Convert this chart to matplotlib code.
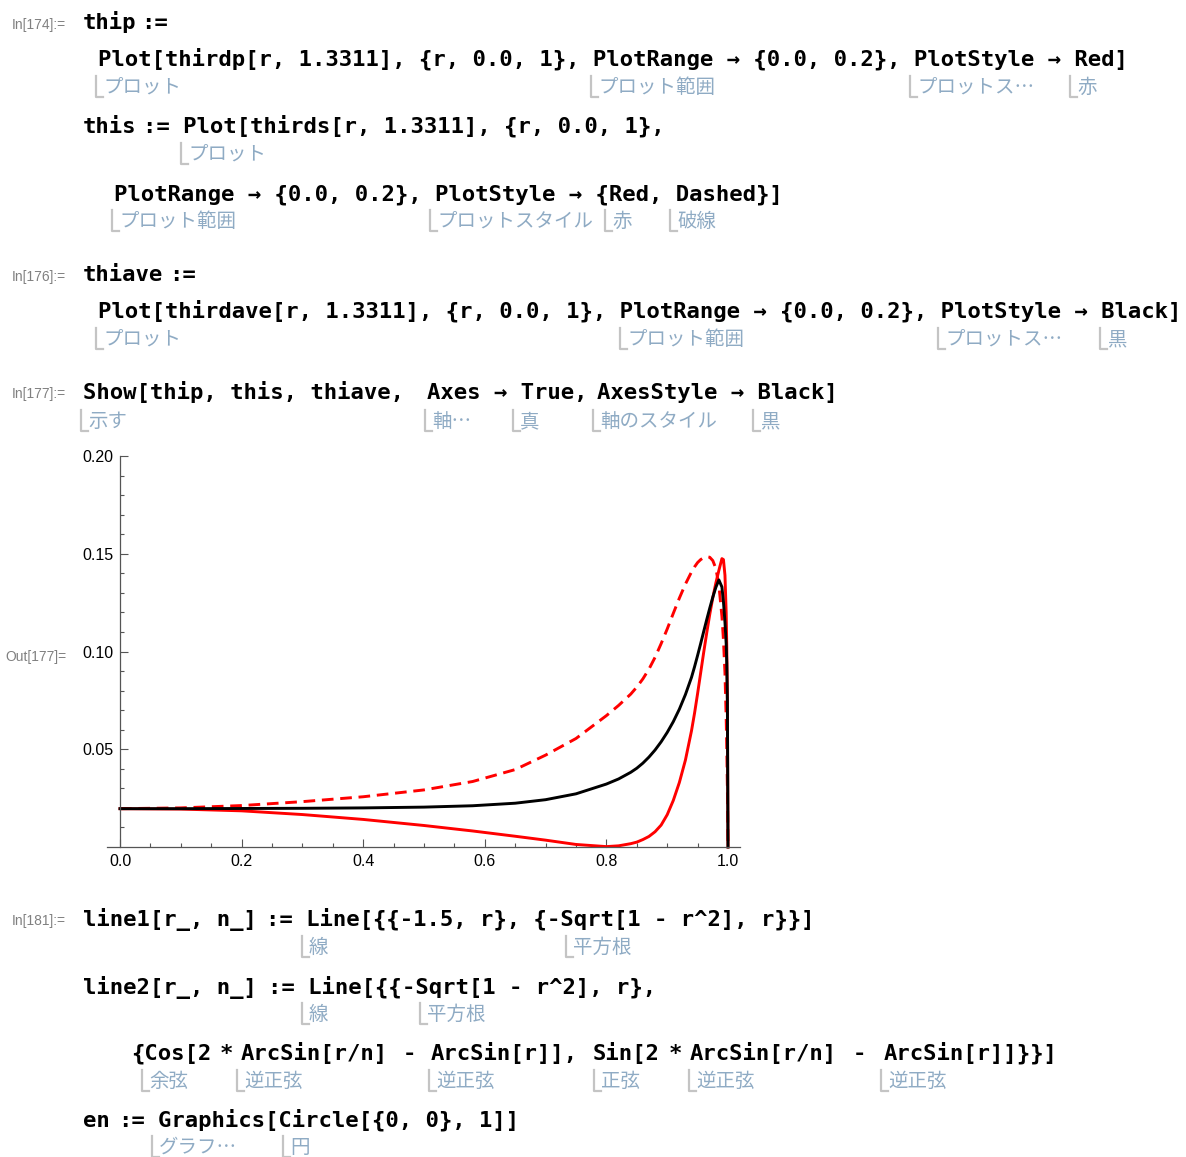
import matplotlib
matplotlib.use('Agg')
import matplotlib.pyplot as plt
from matplotlib.lines import Line2D

# r grid (same grid for all three curves)
r = [0.0, 0.1, 0.2, 0.3, 0.4, 0.5, 0.58, 0.65, 0.7, 0.75, 0.8, 0.82, 0.84, 0.85,
     0.86, 0.87, 0.88, 0.89, 0.9, 0.91, 0.92, 0.93, 0.94, 0.945, 0.95, 0.955, 0.96,
     0.965, 0.97, 0.975, 0.98, 0.985, 0.99, 0.9925, 0.995, 0.997, 0.998, 0.999, 1.0]

# thip (red solid)
thirdp = [0.0196, 0.0194, 0.0185, 0.0166, 0.0141, 0.0110, 0.0082, 0.0055, 0.0035, 0.0013,
          0.0002, 0.0006, 0.0017, 0.0025, 0.0038, 0.0054, 0.0078, 0.0112, 0.0165, 0.0238,
          0.0330, 0.0445, 0.0595, 0.0685, 0.0785, 0.0890, 0.0995, 0.1095, 0.1190, 0.1275,
          0.1350, 0.1415, 0.1475, 0.1470, 0.1390, 0.1200, 0.1020, 0.0720, 0.0]
# this (red dashed)
thirds = [0.0196, 0.0200, 0.0212, 0.0232, 0.0257, 0.0292, 0.0335, 0.0396, 0.0470, 0.0555,
          0.0672, 0.0724, 0.0782, 0.0818, 0.0860, 0.0910, 0.0970, 0.1040, 0.1115, 0.1195,
          0.1273, 0.1345, 0.1407, 0.1433, 0.1455, 0.1470, 0.1480, 0.1485, 0.1482, 0.1465,
          0.1425, 0.1340, 0.1180, 0.1060, 0.0890, 0.0660, 0.0500, 0.0300, 0.0]
# thiave (black)
thirdave = [0.0196, 0.0196, 0.0197, 0.0198, 0.0200, 0.0204, 0.0211, 0.0224, 0.0242, 0.0272,
            0.0322, 0.0348, 0.0382, 0.0403, 0.0429, 0.0460, 0.0496, 0.0538, 0.0586, 0.0641,
            0.0705, 0.0780, 0.0868, 0.0922, 0.0980, 0.1040, 0.1102, 0.1163, 0.1222, 0.1278,
            0.1328, 0.1366, 0.1330, 0.1255, 0.1150, 0.1040, 0.0940, 0.0750, 0.0]

x_ticks = [0.0, 0.2, 0.4, 0.6, 0.8, 1.0]
x_ticklabels = ['0.0', '0.2', '0.4', '0.6', '0.8', '1.0']
y_ticks = [0.05, 0.10, 0.15, 0.20]
y_ticklabels = ['0.05', '0.10', '0.15', '0.20']

W, H = 1186, 1157
CODE_FONT = dict(family='DejaVu Sans Mono', weight='bold', size=16, color='black')
NOTE_FONT = dict(family=['Noto Sans CJK JP', 'DejaVu Sans'], size=14, color='#8fabc4')
LABEL_FONT = dict(family='Liberation Sans', size=10, color='#808080')

fig = plt.figure(figsize=(W / 100, H / 100), dpi=100)


def put(x, y, s, **kw):
    # x, y in pixels from top-left
    fig.text(x / W, 1 - y / H, s, va='baseline', **kw)


def code(y, *parts):
    # parts: (x, text) pairs, so the tokens sit over their hints like in the notebook
    for x, s in parts:
        put(x, y + 8, s, **CODE_FONT)


def note(bx, y, s):
    # grey floor bracket followed by the japanese hint
    fig.add_artist(Line2D([bx / W, bx / W, (bx + 7) / W],
                          [1 - (y - 10) / H, 1 - (y + 11) / H, 1 - (y + 11) / H],
                          color='#c4c4c4', lw=1.6, transform=fig.transFigure))
    put(bx + 7, y + 7, s, **NOTE_FONT)


def label(x, y, s):
    put(x, y + 5, s, **LABEL_FONT)


# cell In[174]
label(12, 24, 'In[174]:=')
code(21, (83, 'thip'), (141, ':='))
code(58, (98, 'Plot[thirdp[r, 1.3311], {r, 0.0, 1}, PlotRange → {0.0, 0.2}, PlotStyle → Red]'))
note(96, 86, 'プロット')
note(591, 86, 'プロット範囲')
note(910, 86, 'プロットス…')
note(1070, 86, '赤')
code(125, (83, 'this'), (143, ':= Plot[thirds[r, 1.3311], {r, 0.0, 1},'))
note(181, 153, 'プロット')
code(193, (114, 'PlotRange → {0.0, 0.2}, PlotStyle → {Red, Dashed}]'))
note(112, 220, 'プロット範囲')
note(430, 220, 'プロットスタイル')
note(605, 220, '赤')
note(670, 220, '破線')

# cell In[176]
label(12, 276, 'In[176]:=')
code(273, (83, 'thiave'), (169, ':='))
code(310, (98, 'Plot[thirdave[r, 1.3311], {r, 0.0, 1}, PlotRange → {0.0, 0.2}, PlotStyle → Black]'))
note(96, 338, 'プロット')
note(620, 338, 'プロット範囲')
note(938, 338, 'プロットス…')
note(1100, 338, '黒')

# cell In[177]
label(12, 393, 'In[177]:=')
code(391, (83, 'Show[thip, this, thiave,'), (427, 'Axes → True,'), (597, 'AxesStyle → Black]'))
note(81, 420, '示す')
note(425, 420, '軸…')
note(513, 420, '真')
note(593, 420, '軸のスタイル')
note(753, 420, '黒')
label(5, 656, 'Out[177]=')

# the plot
ax = fig.add_axes([107 / W, 1 - 847 / H, (740 - 107) / W, (847 - 456) / H])
ax.plot(r, thirdp, color='red', lw=2.1, clip_on=False, solid_joinstyle='round')
ax.plot(r, thirds, color='red', lw=2.1, dashes=(4, 2.3), clip_on=False)
ax.plot(r, thirdave, color='black', lw=2.1, clip_on=False, solid_joinstyle='round')
ax.set_xlim(-13 / 608, 620 / 608)
ax.set_ylim(0, 0.2)
for s in ['top', 'right']:
    ax.spines[s].set_visible(False)
ax.spines['left'].set_position(('data', 0))
for s in ['left', 'bottom']:
    ax.spines[s].set_color('#555555')
    ax.spines[s].set_linewidth(0.9)
ax.set_xticks(x_ticks)
ax.set_xticklabels(x_ticklabels)
ax.set_yticks(y_ticks)
ax.set_yticklabels(y_ticklabels)
ax.set_xticks([v / 20 for v in range(1, 20) if v % 4], minor=True)
ax.set_yticks([v / 100 for v in range(1, 20) if v % 5], minor=True)
ax.tick_params(which='both', direction='in', color='#555555', width=0.8)
ax.tick_params(which='major', length=5.5, labelsize=11.5, pad=5)
ax.tick_params(which='minor', length=3)
for t in ax.get_xticklabels() + ax.get_yticklabels():
    t.set_family('Liberation Sans')
ax.patch.set_alpha(0)

# cell In[181]
label(12, 920, 'In[181]:=')
code(918, (83, 'line1[r_, n_]'), (266, ':= Line[{{-1.5, r}, {'), (547, '-Sqrt[1 - r^2], r}}]'))
note(302, 946, '線')
note(566, 946, '平方根')
code(986, (83, 'line2[r_, n_]'), (268, ':= Line[{{'), (402, '-Sqrt[1 - r^2], r},'))
note(302, 1013, '線')
note(420, 1013, '平方根')
code(1052, (131, '{Cos[2'), (220, '*'), (241, 'ArcSin[r/n]'), (403, '-'), (431, 'ArcSin[r]],'),
     (593, 'Sin[2'), (669, '*'), (690, 'ArcSin[r/n]'), (853, '-'), (884, 'ArcSin[r]]}}]'))
note(142, 1080, '余弦')
note(237, 1080, '逆正弦')
note(429, 1080, '逆正弦')
note(594, 1080, '正弦')
note(689, 1080, '逆正弦')
note(881, 1080, '逆正弦')
code(1119, (83, 'en'), (118, ':='), (158, 'Graphics[Circle[{0, 0}, 1]]'))
note(152, 1146, 'グラフ…')
note(283, 1146, '円')

fig.savefig('out.png', dpi=100)
